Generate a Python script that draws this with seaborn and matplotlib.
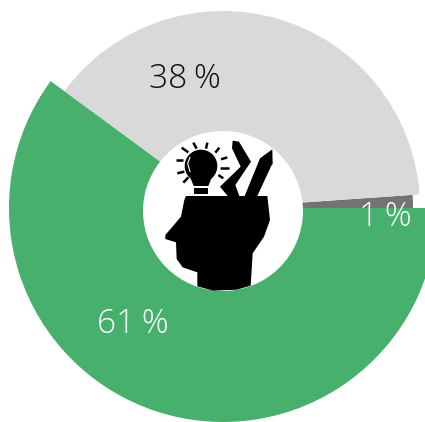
"""
plot.py
Donut-style pie with uneven slice radii and a head icon in the hole.
"""

import matplotlib
matplotlib.use("Agg")  # headless rendering
import matplotlib.pyplot as plt
from matplotlib.patches import Circle, Polygon
import seaborn as sns

# slices, counter-clockwise from east
SHARES = [1.1, 38.8, 60.1]
COLORS = ["#737373", "#d9d9d9", "#46b06c"]
RADII = [190, 197, 214]
LABELS = ["1\u2009%", "38\u2009%", "61\u2009%"]
LABEL_POS = [(385, 217), (185, 79), (133, 324)]
LABEL_COLORS = ["white", "#111111", "white"]

W, H = 425, 422
CX, CY = 223, 208


def flip(x, y):
    # pixel position in the image -> axes coords
    return x, H - y


def zoomed(points):
    return [flip(140 + x / 3, 120 + y / 3) for x, y in points]


def draw_icon(ax):
    head = [(138, 228), (382, 228), (390, 300), (372, 350), (338, 400), (332, 497),
            (290, 509), (220, 512), (172, 499), (172, 457), (128, 442), (110, 417),
            (108, 367), (76, 357), (76, 345), (123, 290), (133, 240)]
    zigzag = [(278, 62), (297, 65), (333, 125), (286, 195), (298, 228), (263, 228),
              (240, 200), (302, 140), (276, 85)]
    pencil = [(360, 115), (397, 88), (398, 132), (394, 137), (352, 228), (314, 228)]
    neck = [(148, 165), (218, 165), (205, 198), (161, 198)]
    base = [(161, 205), (205, 205), (205, 222), (161, 222)]
    for shape in (head, zigzag, pencil, neck, base):
        ax.add_patch(Polygon(zoomed(shape), closed=True, color="black", lw=0, zorder=4))
    bx, by = flip(140 + 183 / 3, 120 + 138 / 3)
    ax.add_patch(Circle((bx, by), 49 / 3, color="black", lw=0, zorder=4))
    # little white highlight on the bulb
    ax.plot(*zip(*zoomed([(150, 112), (143, 130), (150, 155)])), color="white", lw=0.8, zorder=5)
    rays = [((107, 121), (130, 121)), ((125, 83), (145, 97)), ((160, 68), (170, 86)),
            ((202, 68), (198, 86)), ((238, 83), (226, 98)), ((243, 118), (262, 112)),
            ((240, 143), (268, 143)), ((235, 165), (250, 175)), ((112, 160), (133, 155)),
            ((130, 188), (145, 172))]
    for a, b in rays:
        ax.plot(*zip(*zoomed([a, b])), color="black", lw=1.8, solid_capstyle="butt", zorder=4)


sns.set_theme(style="white")
plt.rcParams["font.family"] = ["Open Sans", "DejaVu Sans"]

fig = plt.figure(figsize=(W / 100, H / 100), dpi=100)
ax = fig.add_axes([0, 0, 1, 1])

wedges, _ = ax.pie(SHARES, colors=COLORS, startangle=0, counterclock=True,
                   center=flip(CX, CY), radius=200, frame=True,
                   wedgeprops={"linewidth": 0})
for wedge, r in zip(wedges, RADII):
    wedge.set_radius(r)

ax.add_patch(Circle(flip(223, 211), 80, color="white", lw=0, zorder=3))
draw_icon(ax)

for label, pos, col in zip(LABELS, LABEL_POS, LABEL_COLORS):
    x, y = flip(*pos)
    ax.text(x, y, label, color=col, fontsize=24, fontweight="light",
            ha="center", va="center", zorder=6)

ax.set_xlim(0, W)
ax.set_ylim(0, H)
ax.set_aspect("equal")
ax.axis("off")

fig.savefig("out.png", dpi=100)
plt.close(fig)
